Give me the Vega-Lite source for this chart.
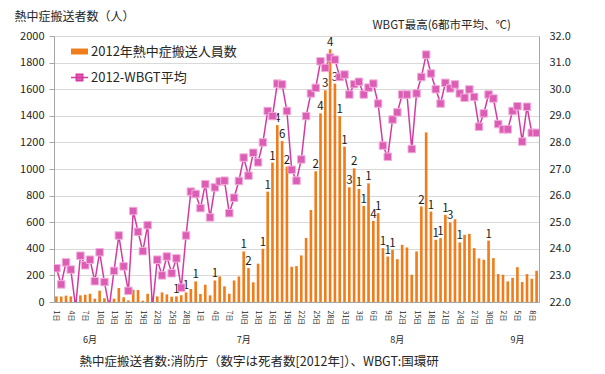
{
  "$schema": "https://vega.github.io/schema/vega-lite/v6.json",
  "width": 485,
  "height": 266,
  "autosize": {"type": "none"},
  "padding": {"left": 54, "top": 36, "right": 66, "bottom": 72},
  "background": "white",
  "config": {
    "font": "Noto Sans CJK JP",
    "view": {"stroke": null},
    "axis": {"labelFont": "Noto Sans CJK JP", "titleFont": "Noto Sans CJK JP", "labelColor": "#262626", "titleColor": "#262626", "titleFontWeight": "normal"},
    "legend": {"labelFont": "Noto Sans CJK JP", "labelColor": "#262626", "padding": 0}
  },
  "data": {"values": [
    {"d":"2012-06-01","n":42,"w":23.27},
    {"d":"2012-06-02","n":42,"w":22.66},
    {"d":"2012-06-03","n":48,"w":23.49},
    {"d":"2012-06-04","n":42,"w":23.22},
    {"d":"2012-06-05","n":18,"w":21.8},
    {"d":"2012-06-06","n":50,"w":23.74},
    {"d":"2012-06-07","n":55,"w":23.38},
    {"d":"2012-06-08","n":62,"w":23.59},
    {"d":"2012-06-09","n":25,"w":22.78},
    {"d":"2012-06-10","n":85,"w":23.87},
    {"d":"2012-06-11","n":28,"w":22.75},
    {"d":"2012-06-12","n":10,"w":21.8},
    {"d":"2012-06-13","n":25,"w":23.17},
    {"d":"2012-06-14","n":105,"w":24.5},
    {"d":"2012-06-15","n":35,"w":23.34},
    {"d":"2012-06-16","n":12,"w":22.42},
    {"d":"2012-06-17","n":92,"w":25.42},
    {"d":"2012-06-18","n":90,"w":24.64},
    {"d":"2012-06-19","n":10,"w":23.91},
    {"d":"2012-06-20","n":62,"w":24.89},
    {"d":"2012-06-21","n":28,"w":21.8},
    {"d":"2012-06-22","n":42,"w":23.59},
    {"d":"2012-06-23","n":72,"w":23.0},
    {"d":"2012-06-24","n":57,"w":23.71},
    {"d":"2012-06-25","n":40,"w":23.08},
    {"d":"2012-06-26","n":42,"w":23.64,"k":1},
    {"d":"2012-06-27","n":50,"w":22.54},
    {"d":"2012-06-28","n":72,"w":24.5,"k":1},
    {"d":"2012-06-29","n":98,"w":26.15},
    {"d":"2012-06-30","n":155,"w":26.06,"k":1},
    {"d":"2012-07-01","n":60,"w":25.53},
    {"d":"2012-07-02","n":130,"w":26.43},
    {"d":"2012-07-03","n":50,"w":25.18},
    {"d":"2012-07-04","n":162,"w":26.31,"k":1},
    {"d":"2012-07-05","n":192,"w":26.53},
    {"d":"2012-07-06","n":118,"w":26.56},
    {"d":"2012-07-07","n":62,"w":25.34},
    {"d":"2012-07-08","n":162,"w":25.92},
    {"d":"2012-07-09","n":192,"w":26.55},
    {"d":"2012-07-10","n":380,"w":27.43,"k":1},
    {"d":"2012-07-11","n":255,"w":26.75,"k":2},
    {"d":"2012-07-12","n":148,"w":27.61},
    {"d":"2012-07-13","n":288,"w":27.25},
    {"d":"2012-07-14","n":400,"w":28.0,"k":1},
    {"d":"2012-07-15","n":830,"w":29.18,"k":1},
    {"d":"2012-07-16","n":1048,"w":28.99,"k":1},
    {"d":"2012-07-17","n":1330,"w":30.21,"k":4},
    {"d":"2012-07-18","n":1210,"w":30.18,"k":6},
    {"d":"2012-07-19","n":1018,"w":29.18,"k":2},
    {"d":"2012-07-20","n":265,"w":26.97},
    {"d":"2012-07-21","n":270,"w":26.56},
    {"d":"2012-07-22","n":350,"w":27.36},
    {"d":"2012-07-23","n":482,"w":28.99},
    {"d":"2012-07-24","n":692,"w":29.84},
    {"d":"2012-07-25","n":983,"w":30.05,"k":2},
    {"d":"2012-07-26","n":1418,"w":31.05,"k":4},
    {"d":"2012-07-27","n":1592,"w":30.8,"k":3},
    {"d":"2012-07-28","n":1900,"w":31.19,"k":4},
    {"d":"2012-07-29","n":1642,"w":31.11,"k":3},
    {"d":"2012-07-30","n":1398,"w":30.46,"k":1},
    {"d":"2012-07-31","n":1168,"w":30.55,"k":1},
    {"d":"2012-08-01","n":862,"w":29.8,"k":3},
    {"d":"2012-08-02","n":1005,"w":30.19,"k":2},
    {"d":"2012-08-03","n":850,"w":30.28,"k":1},
    {"d":"2012-08-04","n":722,"w":29.8,"k":1},
    {"d":"2012-08-05","n":892,"w":30.06,"k":1},
    {"d":"2012-08-06","n":610,"w":30.21,"k":4},
    {"d":"2012-08-07","n":668,"w":29.46,"k":1},
    {"d":"2012-08-08","n":405,"w":27.88,"k":1},
    {"d":"2012-08-09","n":342,"w":27.46,"k":1},
    {"d":"2012-08-10","n":392,"w":28.86,"k":1},
    {"d":"2012-08-11","n":322,"w":29.13},
    {"d":"2012-08-12","n":430,"w":29.8},
    {"d":"2012-08-13","n":410,"w":29.8},
    {"d":"2012-08-14","n":205,"w":27.75},
    {"d":"2012-08-15","n":380,"w":29.84},
    {"d":"2012-08-16","n":718,"w":30.46,"k":2},
    {"d":"2012-08-17","n":1275,"w":31.3},
    {"d":"2012-08-18","n":680,"w":30.59,"k":1},
    {"d":"2012-08-19","n":468,"w":30.0,"k":1},
    {"d":"2012-08-20","n":480,"w":29.46,"k":1},
    {"d":"2012-08-21","n":655,"w":30.24,"k":1},
    {"d":"2012-08-22","n":598,"w":30.03,"k":3},
    {"d":"2012-08-23","n":622,"w":30.18},
    {"d":"2012-08-24","n":448,"w":29.84,"k":1},
    {"d":"2012-08-25","n":505,"w":29.68},
    {"d":"2012-08-26","n":512,"w":29.99},
    {"d":"2012-08-27","n":405,"w":29.71},
    {"d":"2012-08-28","n":328,"w":28.59},
    {"d":"2012-08-29","n":318,"w":29.09},
    {"d":"2012-08-30","n":462,"w":29.8,"k":1},
    {"d":"2012-08-31","n":330,"w":29.65},
    {"d":"2012-09-01","n":210,"w":28.69},
    {"d":"2012-09-02","n":205,"w":28.49},
    {"d":"2012-09-03","n":155,"w":28.49},
    {"d":"2012-09-04","n":182,"w":29.18},
    {"d":"2012-09-05","n":262,"w":29.36},
    {"d":"2012-09-06","n":150,"w":28.03},
    {"d":"2012-09-07","n":210,"w":29.34},
    {"d":"2012-09-08","n":175,"w":28.36},
    {"d":"2012-09-09","n":235,"w":28.36}
  ]},
  "layer": [
    {
      "encoding": {
        "x": {
          "field": "d", "type": "ordinal",
          "scale": {"type": "band", "paddingInner": 0, "paddingOuter": 0},
          "axis": {
            "title": null,
            "values": ["2012-06-01","2012-06-04","2012-06-07","2012-06-10","2012-06-13","2012-06-16","2012-06-19","2012-06-22","2012-06-25","2012-06-28","2012-07-01","2012-07-04","2012-07-07","2012-07-10","2012-07-13","2012-07-16","2012-07-19","2012-07-22","2012-07-25","2012-07-28","2012-07-31","2012-08-03","2012-08-06","2012-08-09","2012-08-12","2012-08-15","2012-08-18","2012-08-21","2012-08-24","2012-08-27","2012-08-30","2012-09-02","2012-09-05","2012-09-08"],
            "labelExpr": "toNumber(slice(datum.value, 8)) + '日'",
            "labelAngle": 90,
            "labelFontSize": 7,
            "labelPadding": 8,
            "labelOverlap": false,
            "ticks": false,
            "grid": false,
            "domainColor": "#A6A6A6"
          }
        }
      },
      "layer": [
        {
          "encoding": {
            "y": {
              "field": "n", "type": "quantitative",
              "scale": {"domain": [0, 2000]},
              "axis": {
                "values": [0,200,400,600,800,1000,1200,1400,1600,1800,2000],
                "format": "d",
                "grid": true,
                "gridColor": "#D9D9D9",
                "domainColor": "#A6A6A6",
                "tickColor": "#A6A6A6",
                "tickSize": 5,
                "labelFontSize": 11,
                "labelPadding": 5,
                "title": "熱中症搬送者数（人）",
                "titleFontSize": 12,
                "titleAngle": 0,
                "titleAlign": "left",
                "titleBaseline": "middle",
                "titleX": -40,
                "titleY": -20
              }
            }
          },
          "layer": [
            {
              "mark": {"type": "bar", "width": {"band": 0.55}},
              "encoding": {
                "color": {
                  "datum": "2012年熱中症搬送人員数",
                  "scale": {"range": ["#F07D1A"]},
                  "legend": {
                    "orient": "none", "legendX": 16, "legendY": 6, "title": null,
                    "symbolType": "M-1,-0.35H1V0.35H-1Z", "symbolSize": 289,
                    "labelFontSize": 13, "labelOffset": 2
                  }
                }
              }
            },
            {
              "transform": [{"filter": "isValid(datum.k)"}],
              "mark": {"type": "text", "baseline": "bottom", "dy": -1, "fontSize": 11.5, "color": "#1a1a1a"},
              "encoding": {"text": {"field": "k", "type": "quantitative"}}
            }
          ]
        },
        {
          "encoding": {
            "y": {
              "field": "w", "type": "quantitative",
              "scale": {"domain": [22, 32]},
              "axis": {
                "orient": "right",
                "values": [22,23,24,25,26,27,28,29,30,31,32],
                "format": ".1f",
                "grid": false,
                "domainColor": "#A6A6A6",
                "ticks": false,
                "labelPadding": 10,
                "labelFontSize": 11,
                "title": "WBGT最高(6都市平均、℃)",
                "titleFontSize": 11.5,
                "titleAngle": 0,
                "titleAlign": "left",
                "titleBaseline": "middle",
                "titleX": -167,
                "titleY": -11
              }
            }
          },
          "layer": [
            {
              "mark": {"type": "line", "clip": true, "strokeWidth": 1.5},
              "encoding": {
                "color": {
                  "datum": "2012-WBGT平均",
                  "scale": {"range": ["#D43AA2"]},
                  "legend": {
                    "orient": "none", "legendX": 16, "legendY": 32, "title": null,
                    "symbolType": "M-1,0H1M-0.38,-0.38H0.38V0.38H-0.38Z", "symbolSize": 289,
                    "symbolStrokeWidth": 1.5,
                    "labelFontSize": 13, "labelOffset": 2,
                    "encode": {"symbols": {"update": {"fill": {"value": "#DC5DB4"}, "stroke": {"value": "#D43AA2"}, "opacity": {"value": 1}}}}
                  }
                }
              }
            },
            {
              "mark": {"type": "point", "shape": "square", "filled": true, "size": 56, "fill": "#DC5DB4", "stroke": "#F2AEDC", "strokeWidth": 1, "opacity": 1, "clip": true}
            }
          ]
        }
      ],
      "resolve": {"scale": {"y": "independent", "color": "independent"}}
    },
    {
      "mark": {"type": "tick", "opacity": 0},
      "encoding": {
        "x": {
          "field": "d", "type": "ordinal",
          "scale": {"type": "band", "paddingInner": 0, "paddingOuter": 0},
          "axis": {
            "orient": "bottom",
            "offset": 33,
            "values": ["2012-06-08","2012-07-10","2012-08-11","2012-09-05"],
            "labelExpr": "toNumber(slice(datum.value, 5, 7)) + '月'",
            "labelAngle": 0,
            "labelFontSize": 9,
            "labelPadding": 0,
            "domain": false,
            "ticks": false,
            "grid": false,
            "title": "熱中症搬送者数:消防庁（数字は死者数[2012年]）、WBGT:国環研",
            "titleFontSize": 12.5,
            "titleX": 25,
            "titleY": 26,
            "titleAlign": "left",
            "titleBaseline": "middle"
          }
        }
      }
    }
  ],
  "resolve": {"scale": {"x": "independent"}}
}
